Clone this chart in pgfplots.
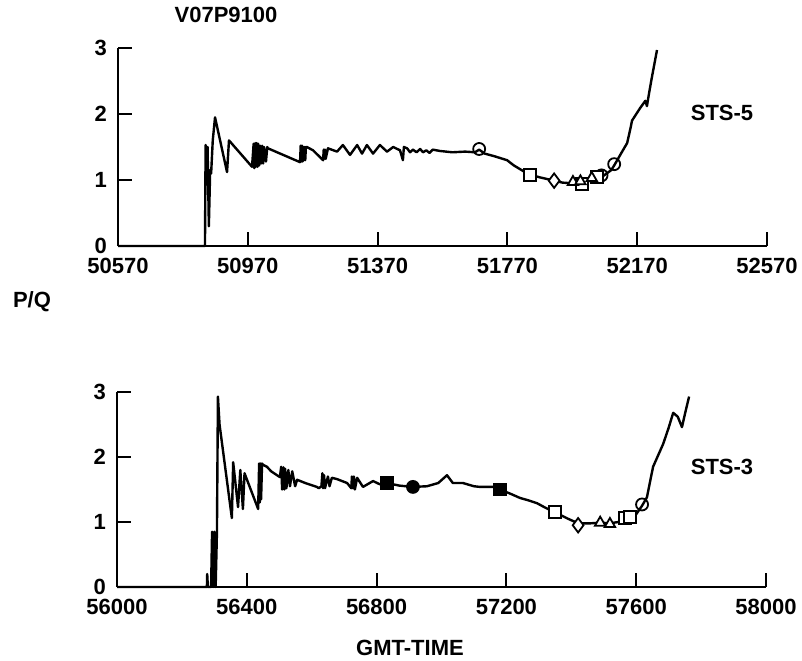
\documentclass[border=0pt]{standalone}
\usepackage{pgfplots}
\pgfplotsset{compat=1.18}
\usepackage{fontspec}
\setmainfont{Liberation Sans}
\pgfplotstableread{
x y
50570 0
50838 0
50840 1.53
50843 1.20
50846 1.50
50850 0.30
50854 1.15
50857 1.10
50862 1.60
50869 1.95
50906 1.12
50912 1.60
50983 1.20
50988 1.55
50990 1.18
50993 1.56
50995 1.20
50997 1.56
51000 1.20
51002 1.55
51005 1.22
51008 1.52
51011 1.25
51014 1.52
51017 1.25
51020 1.50
51026 1.28
51030 1.50
51032 1.48
51131 1.27
51133 1.52
51135 1.28
51137 1.52
51139 1.28
51141 1.50
51143 1.30
51145 1.50
51147 1.30
51149 1.50
51152 1.50
51171 1.45
51202 1.30
51204 1.46
51206 1.32
51208 1.46
51210 1.32
51217 1.48
51245 1.43
51263 1.53
51285 1.38
51307 1.53
51322 1.40
51337 1.53
51356 1.40
51377 1.53
51399 1.43
51418 1.50
51439 1.45
51448 1.30
51451 1.50
51461 1.48
51470 1.42
51479 1.46
51490 1.42
51501 1.47
51510 1.42
51520 1.45
51530 1.41
51540 1.46
51562 1.44
51600 1.42
51640 1.43
51670 1.42
51683 1.46
51700 1.40
51730 1.36
51769 1.30
51790 1.22
51824 1.12
51840 1.08
51870 1.04
51914 0.99
51940 0.96
51972 0.95
52009 0.96
52040 1.02
52065 1.06
52090 1.15
52099 1.22
52120 1.40
52139 1.56
52150 1.80
52154 1.90
52179 2.09
52195 2.20
52200 2.12
52206 2.30
52215 2.55
52231 2.97
}\topdata
\pgfplotstableread{
x y
56000 0
56277 0
56278 0.20
56280 0
56290 0
56293 0.85
56296 0
56300 0.85
56304 0
56308 0.85
56311 2.93
56316 2.50
56354 1.06
56358 1.92
56373 1.23
56380 1.80
56388 1.20
56393 1.75
56435 1.20
56438 1.90
56440 1.30
56442 1.90
56444 1.35
56447 1.90
56450 1.88
56462 1.85
56475 1.78
56502 1.69
56506 1.85
56509 1.50
56513 1.84
56516 1.50
56518 1.82
56522 1.52
56528 1.80
56533 1.55
56540 1.78
56549 1.55
56555 1.65
56580 1.60
56616 1.54
56622 1.52
56630 1.55
56633 1.75
56635 1.52
56638 1.72
56641 1.52
56650 1.70
56655 1.55
56662 1.68
56678 1.66
56709 1.60
56722 1.52
56724 1.70
56727 1.52
56730 1.70
56733 1.50
56740 1.68
56758 1.54
56789 1.63
56810 1.58
56832 1.60
56870 1.56
56912 1.54
56955 1.55
56990 1.60
57017 1.72
57035 1.60
57066 1.60
57100 1.55
57119 1.54
57159 1.54
57180 1.50
57210 1.44
57242 1.37
57270 1.33
57294 1.29
57320 1.22
57350 1.15
57390 1.05
57421 0.98
57460 0.98
57489 0.99
57519 0.98
57545 1.00
57566 1.05
57600 1.12
57618 1.25
57633 1.38
57652 1.85
57683 2.20
57700 2.45
57714 2.68
57728 2.62
57741 2.46
57751 2.68
57763 2.93
}\botdata
\begin{document}
\begin{tikzpicture}
\path[use as bounding box] (0pt,0pt) rectangle (401pt,330pt);
\pgfplotsset{
  panel/.style={
    scale only axis, width=324.5pt,
    axis x line*=bottom, axis y line*=left,
    ymin=0, ymax=3, ytick={0,1,2,3},
    tick align=inside, major tick length=7pt,
    scaled ticks=false,
    axis line style={line width=1pt}, tick style={line width=1pt, black},
    /pgf/number format/assume math mode=true,
    /pgf/number format/1000 sep={},
    tick label style={font=\bfseries\fontsize{11}{13}\selectfont},
    xticklabel style={yshift=-2.5pt},
    yticklabel style={xshift=-2pt},
    clip=false,
  },
  dline/.style={black, line width=1.2pt, line join=round, no marks},
  om/.style={only marks, black, mark size=3pt, mark options={fill=white, line width=0.9pt}},
  fm/.style={only marks, black, mark size=3pt, mark options={fill=black, line width=0.9pt}},
}
\begin{axis}[panel, at={(59pt,207pt)}, anchor=south west, height=99pt,
  xmin=50570, xmax=52570, xtick={50570,50970,51370,51770,52170,52570}]
\addplot[dline] table {\topdata};
\addplot[om, mark=o] coordinates {(51683,1.47) (52060,1.07) (52099,1.24)};
\addplot[om, mark=square*] coordinates {(51840,1.08) (52000,0.94) (52045,1.04)};
\addplot[om, mark=diamond*, mark size=3.6pt] coordinates {(51914,0.99)};
\addplot[om, mark=triangle*] coordinates {(51972,0.97) (51995,0.98) (52030,1.03)};
\end{axis}
\begin{axis}[panel, at={(58.5pt,36.5pt)}, anchor=south west, height=97.5pt,
  xmin=56000, xmax=58000, xtick={56000,56400,56800,57200,57600,58000}]
\addplot[dline] table {\botdata};
\addplot[fm, mark=square*] coordinates {(56832,1.6) (57180,1.5)};
\addplot[fm, mark=*] coordinates {(56912,1.54)};
\addplot[om, mark=square*] coordinates {(57350,1.15) (57566,1.06) (57581,1.08)};
\addplot[om, mark=diamond*, mark size=3.6pt] coordinates {(57421,0.95)};
\addplot[om, mark=triangle*] coordinates {(57489,0.99) (57519,0.97)};
\addplot[om, mark=o] coordinates {(57618,1.27)};
\end{axis}
\node[font=\bfseries\fontsize{11}{13}\selectfont] at (113pt,322.5pt) {V07P9100};
\node[font=\bfseries\fontsize{11}{13}\selectfont, anchor=west] at (3pt,179pt) {P/Q};
\node[font=\bfseries\fontsize{11}{13}\selectfont] at (361pt,273.5pt) {STS-5};
\node[font=\bfseries\fontsize{11}{13}\selectfont] at (361pt,96.5pt) {STS-3};
\node[font=\bfseries\fontsize{11}{13}\selectfont] at (205pt,6pt) {GMT-TIME};
\end{tikzpicture}
\end{document}
